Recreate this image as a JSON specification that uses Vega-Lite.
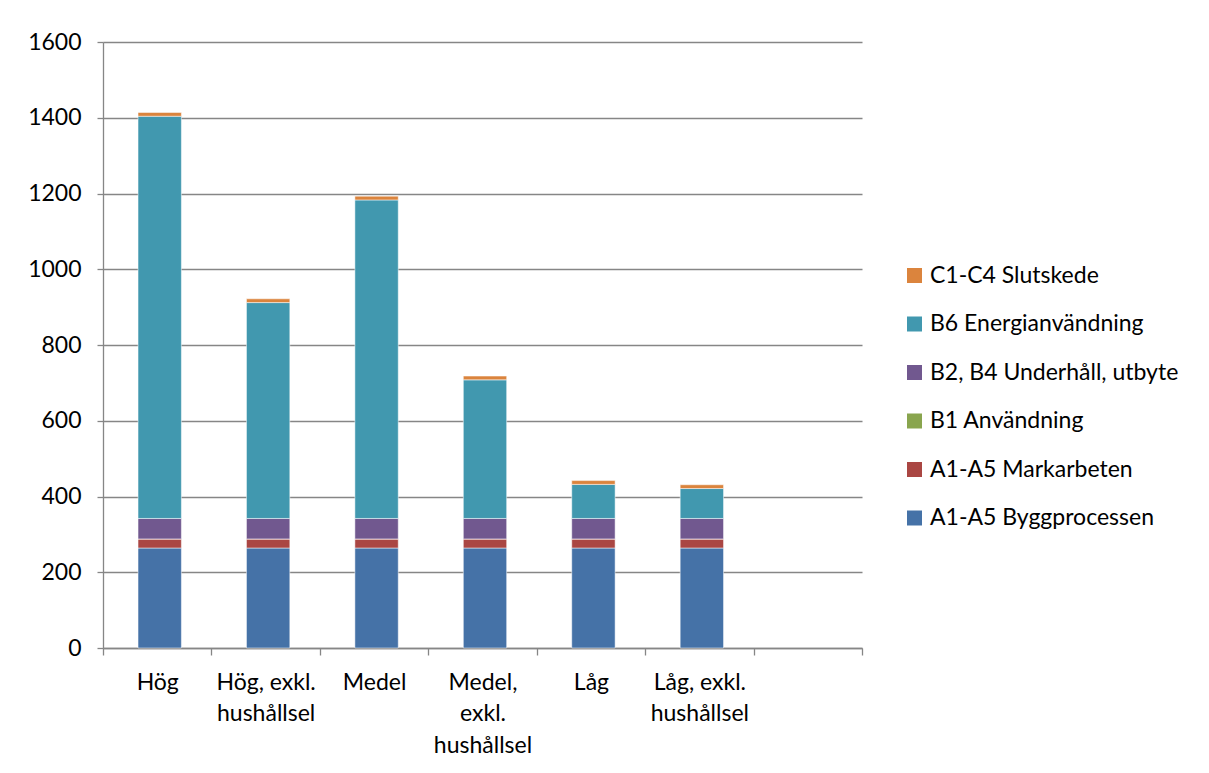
{
  "$schema": "https://vega.github.io/schema/vega-lite/v6.json",
  "autosize": "none",
  "padding": {"left": 103, "top": 42, "right": 347, "bottom": 125},
  "width": 759,
  "height": 606,
  "background": "white",
  "config": {
    "view": {"stroke": null},
    "font": "Lato",
    "axis": {"labelFont": "Lato", "labelFontSize": 23, "labelColor": "#000000", "domainColor": "#868686", "tickColor": "#868686", "gridColor": "#868686", "domainWidth": 1.3, "tickWidth": 1.3, "gridWidth": 1.3},
    "legend": {"labelFont": "Lato", "labelFontSize": 23, "labelColor": "#000000", "labelLimit": 400}
  },
  "data": {"values": [
    {"kategori": "Hög", "del": "A1-A5 Byggprocessen", "k": 1, "varde": 264},
    {"kategori": "Hög", "del": "A1-A5 Markarbeten", "k": 2, "varde": 24},
    {"kategori": "Hög", "del": "B1 Användning", "k": 3, "varde": 0},
    {"kategori": "Hög", "del": "B2, B4 Underhåll, utbyte", "k": 4, "varde": 54},
    {"kategori": "Hög", "del": "B6 Energianvändning", "k": 5, "varde": 1062},
    {"kategori": "Hög", "del": "C1-C4 Slutskede", "k": 6, "varde": 10},
    {"kategori": "Hög, exkl. hushållsel", "del": "A1-A5 Byggprocessen", "k": 1, "varde": 264},
    {"kategori": "Hög, exkl. hushållsel", "del": "A1-A5 Markarbeten", "k": 2, "varde": 24},
    {"kategori": "Hög, exkl. hushållsel", "del": "B1 Användning", "k": 3, "varde": 0},
    {"kategori": "Hög, exkl. hushållsel", "del": "B2, B4 Underhåll, utbyte", "k": 4, "varde": 54},
    {"kategori": "Hög, exkl. hushållsel", "del": "B6 Energianvändning", "k": 5, "varde": 570},
    {"kategori": "Hög, exkl. hushållsel", "del": "C1-C4 Slutskede", "k": 6, "varde": 10},
    {"kategori": "Medel", "del": "A1-A5 Byggprocessen", "k": 1, "varde": 264},
    {"kategori": "Medel", "del": "A1-A5 Markarbeten", "k": 2, "varde": 24},
    {"kategori": "Medel", "del": "B1 Användning", "k": 3, "varde": 0},
    {"kategori": "Medel", "del": "B2, B4 Underhåll, utbyte", "k": 4, "varde": 54},
    {"kategori": "Medel", "del": "B6 Energianvändning", "k": 5, "varde": 841},
    {"kategori": "Medel", "del": "C1-C4 Slutskede", "k": 6, "varde": 10},
    {"kategori": "Medel, exkl. hushållsel", "del": "A1-A5 Byggprocessen", "k": 1, "varde": 264},
    {"kategori": "Medel, exkl. hushållsel", "del": "A1-A5 Markarbeten", "k": 2, "varde": 24},
    {"kategori": "Medel, exkl. hushållsel", "del": "B1 Användning", "k": 3, "varde": 0},
    {"kategori": "Medel, exkl. hushållsel", "del": "B2, B4 Underhåll, utbyte", "k": 4, "varde": 54},
    {"kategori": "Medel, exkl. hushållsel", "del": "B6 Energianvändning", "k": 5, "varde": 366},
    {"kategori": "Medel, exkl. hushållsel", "del": "C1-C4 Slutskede", "k": 6, "varde": 10},
    {"kategori": "Låg", "del": "A1-A5 Byggprocessen", "k": 1, "varde": 264},
    {"kategori": "Låg", "del": "A1-A5 Markarbeten", "k": 2, "varde": 24},
    {"kategori": "Låg", "del": "B1 Användning", "k": 3, "varde": 0},
    {"kategori": "Låg", "del": "B2, B4 Underhåll, utbyte", "k": 4, "varde": 54},
    {"kategori": "Låg", "del": "B6 Energianvändning", "k": 5, "varde": 90},
    {"kategori": "Låg", "del": "C1-C4 Slutskede", "k": 6, "varde": 10},
    {"kategori": "Låg, exkl. hushållsel", "del": "A1-A5 Byggprocessen", "k": 1, "varde": 264},
    {"kategori": "Låg, exkl. hushållsel", "del": "A1-A5 Markarbeten", "k": 2, "varde": 24},
    {"kategori": "Låg, exkl. hushållsel", "del": "B1 Användning", "k": 3, "varde": 0},
    {"kategori": "Låg, exkl. hushållsel", "del": "B2, B4 Underhåll, utbyte", "k": 4, "varde": 54},
    {"kategori": "Låg, exkl. hushållsel", "del": "B6 Energianvändning", "k": 5, "varde": 79},
    {"kategori": "Låg, exkl. hushållsel", "del": "C1-C4 Slutskede", "k": 6, "varde": 10}
  ]},
  "mark": {"type": "bar", "width": {"band": 0.4}, "xOffset": 2.5, "stroke": "#ffffff", "strokeWidth": 1, "strokeOpacity": 0.5},
  "encoding": {
    "x": {
      "field": "kategori", "type": "nominal",
      "scale": {"domain": ["Hög", "Hög, exkl. hushållsel", "Medel", "Medel, exkl. hushållsel", "Låg", "Låg, exkl. hushållsel", " "], "paddingInner": 0, "paddingOuter": 0},
      "axis": {
        "title": null, "labelAngle": 0, "tickBand": "extent", "tickSize": 7, "labelPadding": 16, "labelLineHeight": 31.5,
        "labelExpr": "datum.value == 'Hög, exkl. hushållsel' ? ['Hög, exkl.', 'hushållsel'] : datum.value == 'Medel, exkl. hushållsel' ? ['Medel,', 'exkl.', 'hushållsel'] : datum.value == 'Låg, exkl. hushållsel' ? ['Låg, exkl.', 'hushållsel'] : datum.label"
      }
    },
    "y": {
      "field": "varde", "type": "quantitative", "stack": "zero",
      "scale": {"domain": [0, 1600], "nice": false},
      "axis": {"title": null, "format": "d", "values": [0, 200, 400, 600, 800, 1000, 1200, 1400, 1600], "tickSize": 6, "labelPadding": 16, "grid": true}
    },
    "color": {
      "field": "del", "type": "nominal",
      "scale": {
        "domain": ["C1-C4 Slutskede", "B6 Energianvändning", "B2, B4 Underhåll, utbyte", "B1 Användning", "A1-A5 Markarbeten", "A1-A5 Byggprocessen"],
        "range": ["#DB843D", "#4198AF", "#71588F", "#89A54E", "#AA4643", "#4572A7"]
      },
      "legend": {"title": null, "orient": "none", "legendX": 800, "legendY": 222, "symbolType": "square", "symbolSize": 225, "symbolStrokeWidth": 0, "rowPadding": 24.5, "labelOffset": 4, "labelLimit": 400}
    },
    "order": {"field": "k", "type": "quantitative", "sort": "ascending"}
  }
}
